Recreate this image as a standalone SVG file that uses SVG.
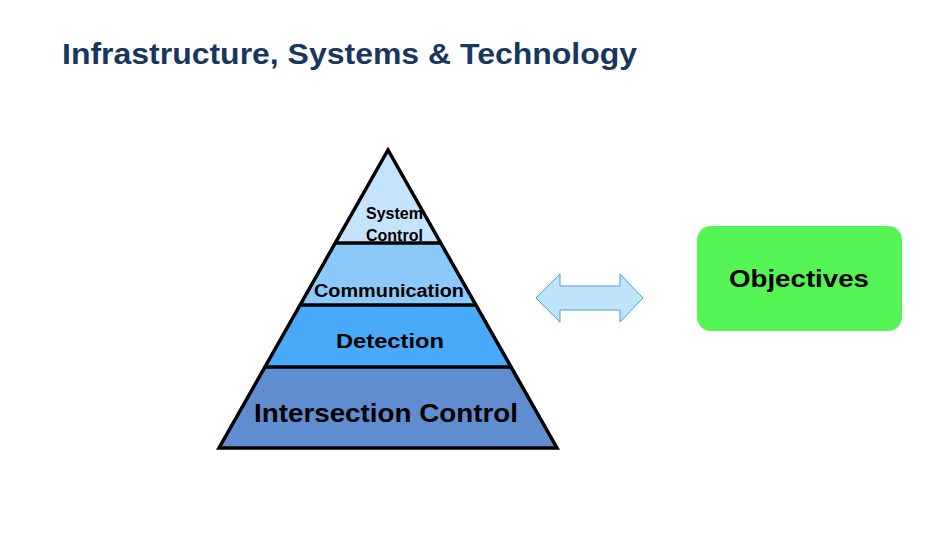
<svg xmlns="http://www.w3.org/2000/svg" width="936" height="540" viewBox="0 0 936 540">
<style>
.t{font-family:"Liberation Sans",Arial,sans-serif;fill:#000;font-weight:bold}
.l{stroke:#000;stroke-width:3.5;stroke-linejoin:miter}
</style>
<rect width="936" height="540" fill="#fff"/>
<text x="62" y="64" font-family="Liberation Sans,Arial,sans-serif" font-size="29" font-weight="bold" fill="#17375e" textLength="575" lengthAdjust="spacingAndGlyphs">Infrastructure, Systems &amp; Technology</text>
<g id="pyramid">
<polygon points="388,150 335,243 441,243" fill="#c5e3fb"/>
<polygon points="335,243 441,243 476,305 300,305" fill="#8cc9fb"/>
<polygon points="300,305 476,305 511,367 265,367" fill="#48aaf8"/>
<polygon points="265,367 511,367 557,448 219,448" fill="#5f8dd0"/>
<polygon class="l" points="388,150 557,448 219,448" fill="none"/>
<line class="l" x1="335" y1="243" x2="441" y2="243"/>
<line class="l" x1="300" y1="305" x2="476" y2="305"/>
<line class="l" x1="265" y1="367" x2="511" y2="367"/>
</g>
<g id="labels">
<text class="t" x="366" y="219" font-size="16">System</text>
<text class="t" x="366" y="241" font-size="16">Control</text>
<text class="t" x="314" y="297" font-size="18" textLength="150" lengthAdjust="spacingAndGlyphs">Communication</text>
<text class="t" x="336" y="348" font-size="21" textLength="108" lengthAdjust="spacingAndGlyphs">Detection</text>
<text class="t" x="254" y="422" font-size="25" textLength="264" lengthAdjust="spacingAndGlyphs">Intersection Control</text>
</g>
<g id="connectors">
<polygon points="536,298 560,274 560,286 620,286 620,274 643,298 620,322 620,310 560,310 560,322" fill="#bfe3f8" stroke="#4aa0d8" stroke-width="1"/>
</g>
<g id="objectives">
<rect x="697" y="226" width="205" height="105" rx="14" fill="#55f455"/>
<text class="t" x="729" y="287" font-size="24" textLength="140" lengthAdjust="spacingAndGlyphs">Objectives</text>
</g>
</svg>
